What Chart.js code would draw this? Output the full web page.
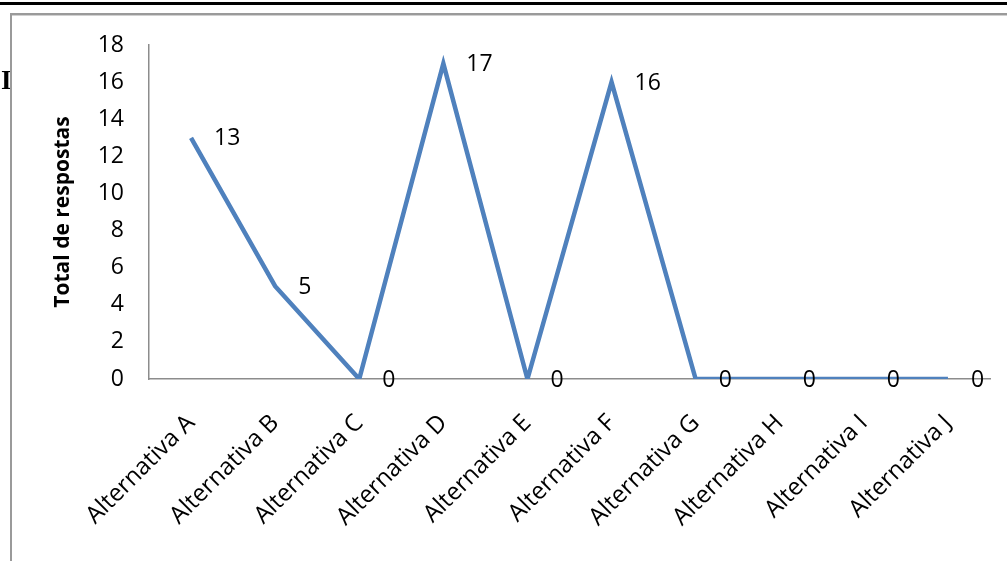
<!DOCTYPE html>
<html>
<head>
<meta charset="utf-8">
<script src="https://cdn.jsdelivr.net/npm/chart.js@4.4.1/dist/chart.umd.min.js"></script>
<style>
  html, body { margin: 0; padding: 0; background: #fff; }
  #wrap { width: 1007px; height: 561px; position: relative; }
</style>
</head>
<body>
<div id="wrap"><canvas id="c" width="1007" height="561"></canvas></div>
<script>
const categories = ['Alternativa A', 'Alternativa B', 'Alternativa C', 'Alternativa D', 'Alternativa E',
                    'Alternativa F', 'Alternativa G', 'Alternativa H', 'Alternativa I', 'Alternativa J'];
const respostas = [13, 5, 0, 17, 0, 16, 0, 0, 0, 0];
const yTicks = [0, 2, 4, 6, 8, 10, 12, 14, 16, 18];
const yTitle = 'Total de respostas';

const FONT = '"Open Sans", Lato, sans-serif';

// page frame: rule across the top, grey border, clipped letter at the left edge
const framePlugin = {
  id: 'frame',
  beforeDraw(chart) {
    const ctx = chart.ctx;
    ctx.save();
    ctx.fillStyle = '#000';
    ctx.fillRect(0, 2, 1007, 3);
    ctx.fillStyle = '#9a9a9a';
    ctx.fillRect(10, 13, 997, 2);
    ctx.fillRect(10, 13, 2, 548);
    ctx.fillStyle = '#d0d0d0';
    ctx.fillRect(12, 15, 995, 1);
    ctx.beginPath();
    ctx.rect(0, 20, 10, 120);
    ctx.clip();
    ctx.fillStyle = '#000';
    ctx.font = 'bold 27px "Liberation Serif", serif';
    ctx.textBaseline = 'middle';
    ctx.fillText('I', 1, 82);
    ctx.restore();
  }
};

// value labels to the right of each point
const valueLabels = {
  id: 'valueLabels',
  afterDatasetsDraw(chart) {
    const ctx = chart.ctx;
    const meta = chart.getDatasetMeta(0);
    ctx.save();
    ctx.font = '23px ' + FONT;
    ctx.fillStyle = '#000';
    ctx.textAlign = 'left';
    ctx.textBaseline = 'middle';
    meta.data.forEach((pt, i) => {
      ctx.fillText(String(respostas[i]), pt.x + 23, pt.y + 1);
    });
    ctx.restore();
  }
};

new Chart(document.getElementById('c'), {
  type: 'line',
  data: {
    labels: categories,
    datasets: [{
      data: respostas,
      borderColor: '#4f81bd',
      borderWidth: 4.5,
      pointRadius: 0,
      tension: 0,
      fill: false
    }]
  },
  options: {
    responsive: false,
    animation: false,
    events: [],
    layout: { padding: { left: 12, top: 45, right: 17, bottom: 0 } },
    plugins: { legend: { display: false }, tooltip: { enabled: false } },
    scales: {
      x: {
        offset: true,
        grid: { display: false, drawTicks: false, offset: true },
        border: { display: true, color: '#8c8c8c', width: 1.5 },
        ticks: {
          color: '#000',
          font: { family: FONT, size: 24 },
          minRotation: 45,
          maxRotation: 45,
          padding: 30,
          autoSkip: false
        },
        afterFit(scale) { scale.height = 561 - 379; }
      },
      y: {
        min: 0,
        max: 18,
        afterBuildTicks(scale) { scale.ticks = yTicks.map(v => ({ value: v })); },
        grid: { display: false, drawTicks: false },
        border: { display: true, color: '#8c8c8c', width: 1.5 },
        ticks: {
          color: '#000',
          font: { family: FONT, size: 23 },
          padding: 25
        },
        title: {
          display: true,
          text: yTitle,
          color: '#000',
          font: { family: FONT, size: 21, weight: 'bold' },
          padding: { top: 38, bottom: 0 }
        },
        afterFit(scale) { scale.width = 149 - 12; }
      }
    }
  },
  plugins: [framePlugin, valueLabels]
});
</script>
</body>
</html>
